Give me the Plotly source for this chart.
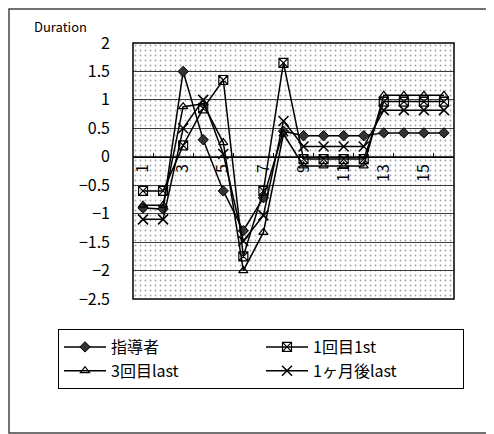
import plotly.graph_objects as go

categories = list(range(1, 17))
tick_labels = ["1", "3", "5", "7", "9", "11", "13", "15"]
tick_positions = [1, 3, 5, 7, 9, 11, 13, 15]

names = ["指導者", "1回目1st", "3回目last", "1ヶ月後last"]
shidousha = [-0.90, -0.92, 1.50, 0.30, -0.60, -1.30, -0.72, 0.45, 0.37, 0.37, 0.37, 0.37, 0.42, 0.42, 0.42, 0.42]
first_1st = [-0.60, -0.60, 0.20, 0.85, 1.35, -1.75, -0.60, 1.65, -0.04, -0.04, -0.04, -0.04, 0.97, 0.97, 0.97, 0.97]
third_last = [-0.85, -0.85, 0.88, 0.93, 0.25, -2.00, -1.33, 0.40, -0.16, -0.16, -0.16, -0.16, 1.08, 1.08, 1.08, 1.08]
month_last = [-1.10, -1.10, 0.50, 1.00, 0.05, -1.48, -1.03, 0.63, 0.18, 0.18, 0.18, 0.18, 0.82, 0.82, 0.82, 0.82]

y_ticks = [2, 1.5, 1, 0.5, 0, -0.5, -1, -1.5, -2, -2.5]
x_range = [0.5, 16.5]
y_range = [-2.5, 2]

# page body has an 8px margin; figure is laid out in its own pixel frame
OFF = 8
W, H = 494 - OFF, 434 - OFF
L, R, T, B = 133 - OFF, 454 - OFF, 43 - OFF, 299 - OFF  # plot area pixel box (figure frame)
pw, ph = R - L, B - T


def px_x(p):
    return (p - OFF - L) / pw


def px_y(p):
    return (B - (p - OFF)) / ph


font_main = "Noto Sans CJK JP, Noto Sans, sans-serif"

fig = go.Figure()

# dotted background pattern of the plot area
fig.add_trace(go.Scatter(
    x=[x_range[0], x_range[1], x_range[1], x_range[0], x_range[0]],
    y=[y_range[0], y_range[0], y_range[1], y_range[1], y_range[0]],
    mode="none", fill="toself", fillcolor="rgba(0,0,0,0)",
    fillpattern=dict(shape=".", fgcolor="#444444", bgcolor="rgba(0,0,0,0)", size=5, solidity=0.1),
    showlegend=False, hoverinfo="skip",
))

styles = [
    dict(symbol="diamond", size=8, color="#333333", line=dict(color="black", width=1)),
    dict(symbol="square-x-open", size=9, color="black", line=dict(color="black", width=1.2)),
    dict(symbol="triangle-up-open", size=8, color="black", line=dict(color="black", width=1.2)),
    dict(symbol="x-thin", size=10, color="black", line=dict(color="black", width=1.5)),
]
series = [shidousha, first_1st, third_last, month_last]
for name, vals, st in zip(names, series, styles):
    fig.add_trace(go.Scatter(
        x=categories, y=vals, name=name, mode="lines+markers",
        line=dict(color="black", width=1.5),
        marker=st,
    ))

fig.update_layout(
    width=W, height=H,
    margin=dict(l=L, r=W - R, t=T, b=H - B),
    paper_bgcolor="white", plot_bgcolor="white",
    font=dict(family=font_main, color="black", size=15),
    xaxis=dict(
        range=x_range, anchor="free", position=(0 - y_range[0]) / (y_range[1] - y_range[0]),
        tickmode="array", tickvals=tick_positions, ticktext=tick_labels,
        tickangle=-90, showgrid=False, zeroline=False,
        showline=True, linecolor="black", linewidth=1,
        ticks="", tickfont=dict(size=16, family=font_main),
        minor=dict(tick0=1.5, dtick=2, ticks="inside", ticklen=4, tickcolor="black", showgrid=False),
    ),
    yaxis=dict(
        range=y_range, tickmode="array", tickvals=y_ticks,
        ticktext=[("−" if v < 0 else "") + ("%g" % abs(v)) for v in y_ticks],
        showgrid=True, gridcolor="#3c3c3c", gridwidth=1,
        zeroline=False, showline=False, ticks="",
        ticklabelstandoff=22, tickfont=dict(size=16, family=font_main),
    ),
    legend=dict(
        orientation="h", x=px_x(58), y=px_y(329), xanchor="left", yanchor="top",
        bordercolor="black", borderwidth=1, bgcolor="white",
        font=dict(size=16, family=font_main),
        itemwidth=42,
        entrywidth=145, entrywidthmode="pixels", traceorder="normal",
    ),
    shapes=[
        dict(type="rect", xref="paper", yref="paper", x0=0, x1=1, y0=0, y1=1,
             line=dict(color="black", width=1.5), fillcolor="rgba(0,0,0,0)", layer="above"),
        dict(type="rect", xref="paper", yref="paper", x0=px_x(9), x1=px_x(489), y0=px_y(433), y1=px_y(9),
             line=dict(color="#444444", width=1.5), fillcolor="rgba(0,0,0,0)", layer="below"),
    ],
    annotations=[
        dict(text="Duration", xref="paper", yref="paper", x=px_x(32), y=px_y(26),
             xanchor="left", yanchor="middle", showarrow=False,
             font=dict(size=13, family=font_main)),
    ],
)

fig.write_html("out.html")
